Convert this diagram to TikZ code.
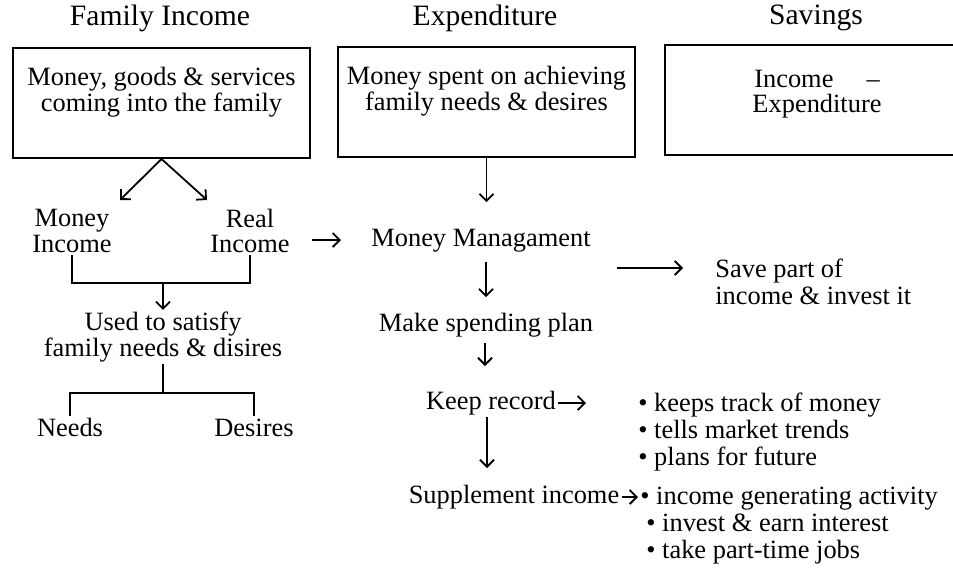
\documentclass[tikz,border=0pt]{standalone}
\usepackage{fontspec}
\setmainfont{Liberation Serif}
\usetikzlibrary{arrows.meta}

\begin{document}
\begin{tikzpicture}[x=0.5pt,y=-0.5pt,>={Straight Barb[length=3.5pt,width=7pt]},
        every node/.style={font=\fontsize{13.2}{12.6}\selectfont,align=center,inner sep=1pt},
        title/.style={font=\fontsize{14.8}{15}\selectfont},
        word/.style={text height=9pt,text depth=2.5pt},
        bigbox/.style={draw,line width=1pt,minimum width=148.5pt,minimum height=55pt},
        blist/.style={anchor=north west,align=left,font=\fontsize{13.2}{13.3}\selectfont},
        flow/.style={->,line width=0.9pt},
        tree/.style={line width=0.9pt}]
        \useasboundingbox (0,0) rectangle (953,574);

        \node[title] (inc_t) at (160,18) {Family Income};
        \node[title] (exp_t) at (485,18) {Expenditure};
        \node[title] (sav_t) at (816,18) {Savings};
        \node[bigbox] (inc) at (161.5,103) {Money, goods \& services\\coming into the family\\[1pt]};
        \node[bigbox] (exp) at (486.5,102) {Money spent on achieving\\family needs \& desires\\[1pt]};
        \node[bigbox,minimum width=146pt] (sav) at (811,100) {\hspace{6pt}Income\quad\ --\\\hspace{6pt}Expenditure\\[-4pt]};

        \node (mon) at (72,231) {Money\\Income};
        \node (real) at (250,231) {Real\\Income};
        \coordinate (m1) at (120,200);
        \coordinate (r1) at (207,200);
        \draw[flow] (inc.south) -- (m1);
        \draw[flow] (inc.south) -- (r1);

        \node (used) at (163,337) {Used to satisfy\\family needs \& disires};
        \coordinate (jn) at (163,283);
        \draw[tree] (mon.south) |- (jn) -| (real.south);
        \draw[flow] (jn) -- (used.north);

        \node[word] (needs) at (70,430) {Needs};
        \node[word] (des) at (254,430) {Desires};
        \coordinate (js) at (163,393);
        \draw[tree] (used.south) -- (js);
        \draw[tree] (needs.north) |- (js) -| (des.north);

        \node[word] (mm) at (481,240) {Money Managament};
        \draw[flow,shorten <=10pt,shorten >=14pt] (real.east |- mm.west) -- (mm.west);
        \draw[flow,shorten >=12pt] (exp.south) -- (exp.south |- mm.north);

        \node[blist,anchor=west] (save) at (713,282) {Save part of\\income \& invest it};
        \draw[flow,shorten <=12pt,shorten >=15pt] (mm.east |- 0,268) -- (save.west |- 0,268);

        \node[word] (plan) at (486,325) {Make spending plan};
        \draw[flow,shorten <=4pt,shorten >=7pt] (plan.north |- mm.south) -- (plan.north);

        \node[word] (rec) at (491,403) {Keep record};
        \node[blist] (keeps) at (636,391) {\textbullet{} keeps track of money\\\textbullet{} tells market trends\\\textbullet{} plans for future};
        \draw[flow,shorten >=3pt,shorten <=2pt] (plan.south -| 485,0) -- (485,372);
        \draw[flow,shorten >=25pt] (rec.east) -- (rec.east -| keeps.west);

        \node[word] (sup) at (514,497) {Supplement income};
        \node[blist] (gen) at (638,485) {\textbullet{} income generating activity\\\hspace{3pt}\textbullet{} invest \& earn interest\\\hspace{3pt}\textbullet{} take part-time jobs};
        \draw[flow,shorten >=10pt] (rec.south -| 487,0) -- (487,488);
        \draw[flow] (sup.east) -- (sup.east -| gen.west);
\end{tikzpicture}
\end{document}
